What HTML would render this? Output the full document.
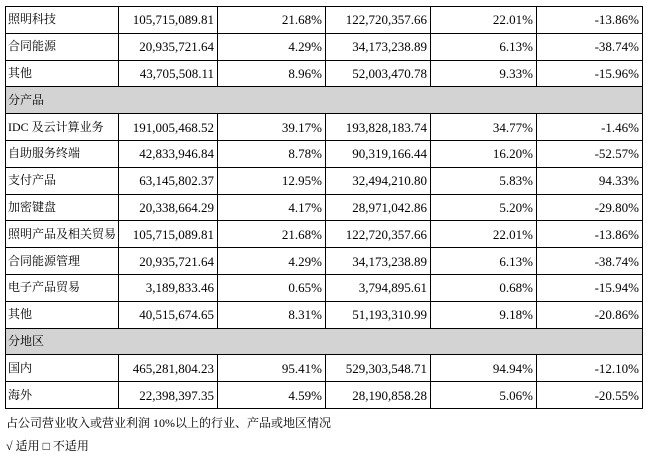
<!DOCTYPE html>
<html><head><meta charset="utf-8"><style>
body{margin:0;background:#fff;width:648px;height:457px;overflow:hidden;font-family:"Liberation Serif","Noto Serif CJK SC",serif;font-size:13px;color:#000}
table{position:absolute;left:5px;top:6px;border-collapse:collapse;table-layout:fixed;width:637px}
td{border:1.3px solid #000;height:25.8px;padding:0 3px;white-space:nowrap;line-height:13px;overflow:hidden}
td:first-child{font-size:12px;padding:0 2px}
td.n{text-align:right}
tr.g td{background:#d3d3d3}
.note{position:absolute;left:6px;font-size:12px}
</style></head><body>
<table>
<colgroup><col style="width:113px"><col style="width:99px"><col style="width:108px"><col style="width:105px"><col style="width:106px"><col style="width:106px"></colgroup>
<tr><td>照明科技</td><td class="n">105,715,089.81</td><td class="n">21.68%</td><td class="n">122,720,357.66</td><td class="n">22.01%</td><td class="n">-13.86%</td></tr>
<tr><td>合同能源</td><td class="n">20,935,721.64</td><td class="n">4.29%</td><td class="n">34,173,238.89</td><td class="n">6.13%</td><td class="n">-38.74%</td></tr>
<tr><td>其他</td><td class="n">43,705,508.11</td><td class="n">8.96%</td><td class="n">52,003,470.78</td><td class="n">9.33%</td><td class="n">-15.96%</td></tr>
<tr class="g"><td colspan="6">分产品</td></tr>
<tr><td>IDC 及云计算业务</td><td class="n">191,005,468.52</td><td class="n">39.17%</td><td class="n">193,828,183.74</td><td class="n">34.77%</td><td class="n">-1.46%</td></tr>
<tr><td>自助服务终端</td><td class="n">42,833,946.84</td><td class="n">8.78%</td><td class="n">90,319,166.44</td><td class="n">16.20%</td><td class="n">-52.57%</td></tr>
<tr><td>支付产品</td><td class="n">63,145,802.37</td><td class="n">12.95%</td><td class="n">32,494,210.80</td><td class="n">5.83%</td><td class="n">94.33%</td></tr>
<tr><td>加密键盘</td><td class="n">20,338,664.29</td><td class="n">4.17%</td><td class="n">28,971,042.86</td><td class="n">5.20%</td><td class="n">-29.80%</td></tr>
<tr><td>照明产品及相关贸易</td><td class="n">105,715,089.81</td><td class="n">21.68%</td><td class="n">122,720,357.66</td><td class="n">22.01%</td><td class="n">-13.86%</td></tr>
<tr><td>合同能源管理</td><td class="n">20,935,721.64</td><td class="n">4.29%</td><td class="n">34,173,238.89</td><td class="n">6.13%</td><td class="n">-38.74%</td></tr>
<tr><td>电子产品贸易</td><td class="n">3,189,833.46</td><td class="n">0.65%</td><td class="n">3,794,895.61</td><td class="n">0.68%</td><td class="n">-15.94%</td></tr>
<tr><td>其他</td><td class="n">40,515,674.65</td><td class="n">8.31%</td><td class="n">51,193,310.99</td><td class="n">9.18%</td><td class="n">-20.86%</td></tr>
<tr class="g"><td colspan="6">分地区</td></tr>
<tr><td>国内</td><td class="n">465,281,804.23</td><td class="n">95.41%</td><td class="n">529,303,548.71</td><td class="n">94.94%</td><td class="n">-12.10%</td></tr>
<tr><td>海外</td><td class="n">22,398,397.35</td><td class="n">4.59%</td><td class="n">28,190,858.28</td><td class="n">5.06%</td><td class="n">-20.55%</td></tr>
</table>
<div class="note" style="top:414px">占公司营业收入或营业利润 10%以上的行业、产品或地区情况</div>
<div class="note" style="top:437px">√ 适用 □ 不适用</div>
</body></html>
